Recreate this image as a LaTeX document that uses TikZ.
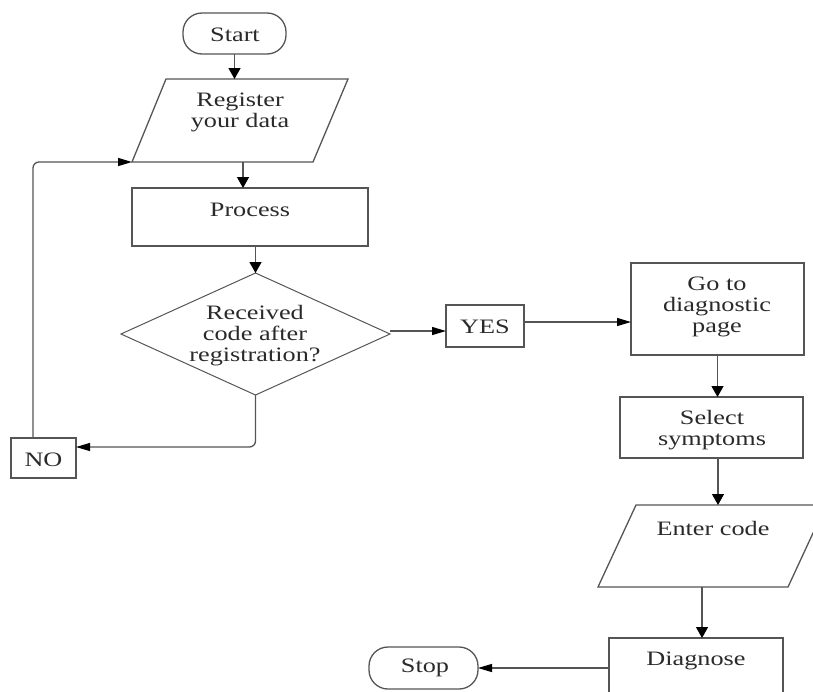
\documentclass[tikz,border=0pt]{standalone}
\usepackage{fontspec}
\setmainfont{Liberation Serif}[FakeStretch=1.28]
\usetikzlibrary{shapes.geometric,arrows.meta}
\definecolor{ln}{HTML}{555555}
\definecolor{tx}{HTML}{2A2A2A}
\begin{document}
\begin{tikzpicture}[x=1pt,y=-1pt,
  box/.style={draw=ln,line width=1.3pt,inner sep=0pt,outer sep=0pt},
  frame/.style={inner sep=0pt,outer sep=0pt},
  txt/.style={text=tx,font=\fontsize{20.5}{21}\selectfont,align=center,inner sep=0pt},
  varrow/.style={draw=ln,line width=1.3pt,-{Triangle[length=11pt,width=12pt,color=black]}},
  harrow/.style={draw=ln,line width=1.3pt,-{Triangle[length=14pt,width=8pt,color=black]}},
  shapeline/.style={draw=ln,line width=1.3pt,line join=miter}]
\useasboundingbox (0,0) rectangle (813,691);
% Start
\node[box,rounded corners=19pt,minimum width=103pt,minimum height=41pt] (start) at (234.5,33.5) {};
\node[txt] (starttxt) at (235,35) {Start};
% Register (parallelogram)
\node[frame,minimum width=216pt,minimum height=83pt] (reg) at (240,120.5) {};
\draw[shapeline] ([xshift=34pt]reg.north west) -- (reg.north east) -- ([xshift=-35pt]reg.south east) -- (reg.south west) -- cycle;
\node[txt] (regtxt) at (240,112.5) {Register\\your data};
% Process
\node[box,minimum width=236pt,minimum height=58pt] (proc) at (250,217) {};
\node[txt] (proctxt) at (250,210) {Process};
% Decision
\node[draw=ln,line width=1pt,diamond,minimum width=269pt,minimum height=122pt,inner sep=0pt,outer sep=0pt] (dec) at (255.5,334) {};
\node[txt] (dectxt) at (255,336) {Received\\code after\\registration?};
% YES
\node[box,minimum width=78pt,minimum height=42pt] (yes) at (485,326) {};
\node[txt] (yestxt) at (485,327) {YES};
% NO
\node[box,minimum width=65pt,minimum height=40pt] (no) at (43.5,458) {};
\node[txt] (notxt) at (43.5,460) {NO};
% Go to diagnostic page
\node[box,minimum width=173pt,minimum height=92pt] (goto) at (717.5,309) {};
\node[txt] (gototxt) at (717,307) {Go to\\diagnostic\\page};
% Select symptoms
\node[box,minimum width=183pt,minimum height=61pt] (sel) at (711.5,427.5) {};
\node[txt] (seltxt) at (712,430) {Select\\symptoms};
% Enter code (parallelogram)
\node[frame,minimum width=228pt,minimum height=82pt] (enter) at (712,546) {};
\draw[shapeline] ([xshift=38pt]enter.north west) -- (enter.north east) -- ([xshift=-38pt]enter.south east) -- (enter.south west) -- cycle;
\node[txt] (entertxt) at (713,528) {Enter code};
% Diagnose
\node[box,minimum width=174pt,minimum height=82pt] (dia) at (696,679) {};
\node[txt] (diatxt) at (696,661) {Diagnose};
% Stop
\node[box,rounded corners=19pt,minimum width=109pt,minimum height=42pt] (stop) at (423.5,668) {};
\node[txt] (stoptxt) at (425,668) {Stop};
% Connectors
\draw[varrow] (start.south) -- (start.south |- reg.north);
\draw[varrow] ([xshift=3pt]reg.south) -- ([xshift=3pt]reg.south |- proc.north);
\draw[varrow] (dec.north |- proc.south) -- (dec.north);
\draw[harrow] ([yshift=3pt]dec.east) -- ([yshift=3pt]dec.east -| yes.west);
\draw[harrow] ([yshift=4pt]yes.east) -- ([yshift=4pt]yes.east -| goto.west);
\draw[varrow] (goto.south) -- (goto.south |- sel.north);
\draw[varrow] ([xshift=6.5pt]sel.south) -- ([xshift=6.5pt]sel.south |- enter.north);
\draw[varrow] ([xshift=6pt]dia.north |- enter.south) -- ([xshift=6pt]dia.north);
\draw[harrow] (stop.east -| dia.west) -- (stop.east);
\draw[harrow,rounded corners=6pt] (dec.south) |- ([yshift=11pt]no.east);
\draw[harrow,rounded corners=6pt] ([xshift=-10.5pt]no.north) |- (reg.south west);
\end{tikzpicture}
\end{document}
